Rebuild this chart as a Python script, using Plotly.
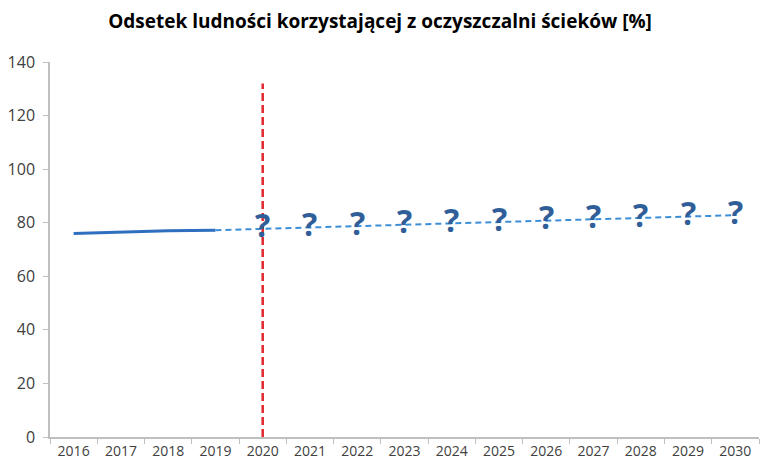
import plotly.graph_objects as go

# Historical and projected share of population served by wastewater treatment plants
years = [str(y) for y in range(2016, 2031)]
hist_years = ["2016", "2017", "2018", "2019"]
hist_values = [76.0, 76.5, 77.0, 77.2]
proj_years = ["2019", "2020", "2021", "2022", "2023", "2024", "2025",
              "2026", "2027", "2028", "2029", "2030"]
proj_values = [77.2, 77.7, 78.2, 78.7, 79.2, 79.7, 80.2, 80.7, 81.2, 81.7, 82.2, 82.8]
unknown_years = proj_years[1:]
unknown_values = proj_values[1:]
cutoff_year = "2020"
cutoff_top = 132

y_ticks = [0, 20, 40, 60, 80, 100, 120, 140]

fig = go.Figure()

fig.add_trace(go.Scatter(
    x=hist_years, y=hist_values, mode="lines",
    line=dict(color="#2F6FC0", width=3), showlegend=False, hoverinfo="skip"))

fig.add_trace(go.Scatter(
    x=proj_years, y=proj_values, mode="lines",
    line=dict(color="#3C8ED6", width=2, dash="6px,4px"), showlegend=False,
    hoverinfo="skip"))

# vertical marker separating known data from forecasts
fig.add_trace(go.Scatter(
    x=[cutoff_year, cutoff_year], y=[0, cutoff_top], mode="lines",
    line=dict(color="#E0292E", width=2.5, dash="8px,4px"), showlegend=False,
    hoverinfo="skip"))

# question marks over each forecast year (category axes take the index here)
for yr, val in zip(unknown_years, unknown_values):
    fig.add_annotation(
        x=years.index(yr), y=val, text="<b>?</b>", showarrow=False, yshift=4,
        font=dict(family="Open Sans, Arial, sans-serif", size=32, color="#2F5E98"))

fig.update_layout(
    width=760, height=464,
    margin=dict(l=50, r=1, t=62, b=27, autoexpand=False),
    paper_bgcolor="white", plot_bgcolor="white",
    title=dict(
        text="<b>Odsetek ludności korzystającej z oczyszczalni ścieków [%]</b>",
        x=0.5, xanchor="center", y=0.955, yanchor="middle",
        font=dict(family="Open Sans, Arial, sans-serif", size=19, color="#000000")),
    font=dict(family="Open Sans, Arial, sans-serif", size=14, color="#404040"),
)

fig.update_xaxes(
    type="category", categoryorder="array", categoryarray=years,
    range=[-0.5, len(years) - 0.5], automargin=False,
    showline=True, linecolor="#BFBFBF", linewidth=1.5,
    ticks="outside", tickson="boundaries", ticklen=5, tickcolor="#BFBFBF",
    ticklabelstandoff=0,
    showgrid=False, zeroline=False, tickfont=dict(size=14, color="#404040"))

fig.update_yaxes(
    range=[0, 140], tickvals=y_ticks, automargin=False,
    showline=True, linecolor="#BFBFBF", linewidth=1.5,
    ticks="outside", ticklen=5, tickcolor="#BFBFBF",
    ticklabelstandoff=5,
    showgrid=False, zeroline=False, tickfont=dict(size=16, color="#404040"))

fig.write_html("out.html")
